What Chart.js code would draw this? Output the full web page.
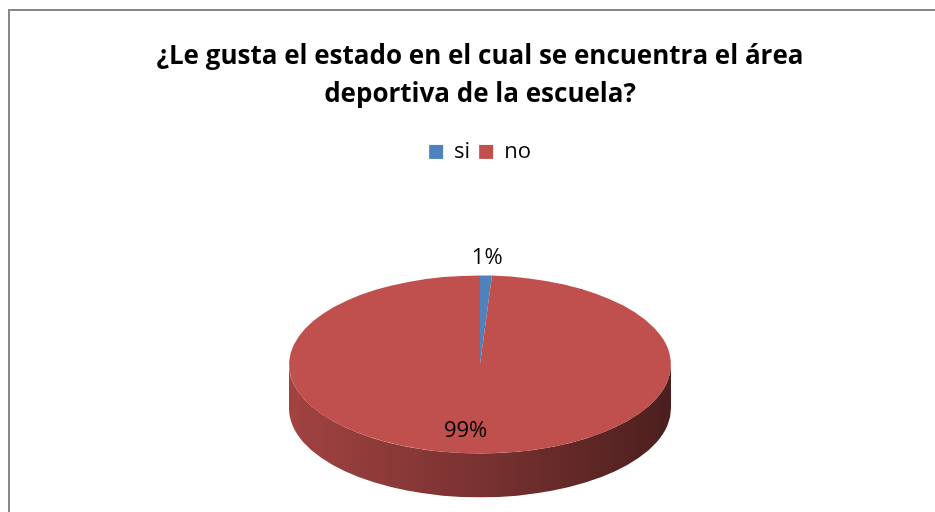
<!DOCTYPE html>
<html>
<head>
<meta charset="utf-8">
<script src="https://cdn.jsdelivr.net/npm/chart.js@4.4.0/dist/chart.umd.min.js"></script>
<style>
  body { margin: 0; background: #fff; }
  #marco { position: absolute; left: 8px; top: 9px; width: 940px; height: 510px;
           border-left: 2px solid #878787; border-top: 2px solid #878787; }
  #grafico { position: absolute; left: 0; top: 0; }
</style>
</head>
<body>
<div id="marco"></div>
<canvas id="grafico" width="935" height="512"></canvas>
<script>
const categorias = ["si", "no"];
const porcentajes = [1, 99];
const colores = ["#4f81bd", "#c0504d"];
const titulo = ["¿Le gusta el estado en el cual se encuentra el área", "deportiva de la escuela?"];

// efecto 3D: aplastar el pastel y dibujar la pared del frente
const INCLINACION = 0.466;   // alto / ancho de la elipse
const GROSOR = 0.23;         // grosor de la pared respecto al radio

function oscurecer(hex, f) {
    const n = parseInt(hex.slice(1), 16);
    const r = Math.round(((n >> 16) & 255) * f);
    const g = Math.round(((n >> 8) & 255) * f);
    const b = Math.round((n & 255) * f);
    return `rgb(${r},${g},${b})`;
}

const pastel3d = {
    id: "pastel3d",
    beforeDatasetsDraw(chart) {
        const ctx = chart.ctx;
        const arcos = chart.getDatasetMeta(0).data;
        const {x, y, outerRadius: r} = arcos[0];
        const ry = r * INCLINACION;
        const prof = r * GROSOR;
        const cy = y + prof / 2;

        arcos.forEach((arco, i) => {
            const grad = ctx.createLinearGradient(x - r, 0, x + r, 0);
            grad.addColorStop(0, oscurecer(colores[i], 0.84));
            grad.addColorStop(0.5, oscurecer(colores[i], 0.63));
            grad.addColorStop(1, oscurecer(colores[i], 0.39));
            for (let k = -1; k <= 1; k++) {
                const s = Math.max(arco.startAngle, 2 * Math.PI * k);
                const e = Math.min(arco.endAngle, Math.PI + 2 * Math.PI * k);
                if (e <= s) continue;
                ctx.beginPath();
                ctx.ellipse(x, cy, r, ry, 0, s, e);
                ctx.ellipse(x, cy + prof, r, ry, 0, e, s, true);
                ctx.closePath();
                ctx.fillStyle = grad;
                ctx.fill();
            }
        });

        ctx.save();
        ctx.translate(x, cy);
        ctx.scale(1, INCLINACION);
        ctx.translate(-x, -y);
    },
    afterDatasetsDraw(chart) {
        const ctx = chart.ctx;
        ctx.restore();
        const arcos = chart.getDatasetMeta(0).data;
        const {x, y, outerRadius: r} = arcos[0];
        const ry = r * INCLINACION;
        const cy = y + r * GROSOR / 2;
        const total = porcentajes.reduce((a, b) => a + b, 0);

        ctx.save();
        ctx.font = "22px 'Open Sans'";
        ctx.fillStyle = "#000";
        ctx.textAlign = "center";
        ctx.textBaseline = "middle";
        arcos.forEach((arco, i) => {
            const m = (arco.startAngle + arco.endAngle) / 2;
            const fuera = porcentajes[i] / total < 0.05;
            const rho = fuera ? 1.2 : 0.74;
            const dx = fuera ? 0 : -10;
            ctx.fillText(porcentajes[i] + "%", x + dx + rho * r * Math.cos(m), cy + rho * ry * Math.sin(m));
        });
        ctx.restore();
    }
};

const config = {
    type: "pie",
    data: {
        labels: categorias,
        datasets: [{
            data: porcentajes,
            backgroundColor: colores,
            borderWidth: 0,
            clip: false
        }]
    },
    options: {
        responsive: false,
        animation: false,
        events: [],
        radius: 191,
        layout: { padding: { left: 25 } },
        plugins: {
            title: {
                display: true,
                text: titulo,
                color: "#000",
                font: { family: "'Open Sans'", size: 26, weight: "bold", lineHeight: 1.46 },
                padding: { top: 38, bottom: 18 }
            },
            legend: {
                position: "top",
                labels: {
                    color: "#000",
                    font: { family: "'Open Sans'", size: 22 },
                    boxWidth: 14,
                    boxHeight: 14,
                    padding: 9
                }
            },
            tooltip: { enabled: false }
        }
    },
    plugins: [pastel3d]
};

new Chart(document.getElementById("grafico"), config);
</script>
</body>
</html>
